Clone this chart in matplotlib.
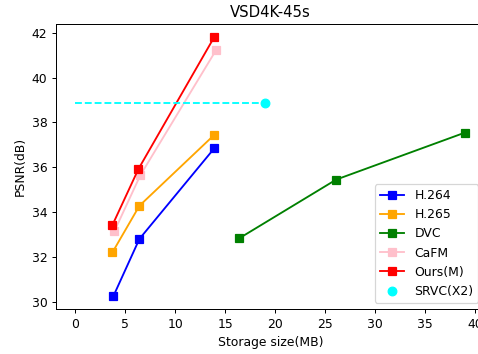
import matplotlib
matplotlib.use("Agg")
import matplotlib.pyplot as plt

# storage size (MB) and PSNR (dB) per method
h264_size = [3.8, 6.4, 13.9]
h264_psnr = [30.25, 32.8, 36.85]
h265_size = [3.7, 6.4, 13.9]
h265_psnr = [32.2, 34.28, 37.45]
dvc_size = [16.4, 26.1, 39.0]
dvc_psnr = [32.83, 35.45, 37.55]
cafm_size = [3.9, 6.5, 14.1]
cafm_psnr = [33.15, 35.65, 41.25]
ours_size = [3.7, 6.3, 13.9]
ours_psnr = [33.42, 35.92, 41.82]
srvc_size = 19.0
srvc_psnr = 38.88

# reference looks like a ~0.89x scaled render, so use dpi 89
DPI = 89
fig = plt.figure(figsize=(478 / DPI, 354 / DPI), dpi=DPI)
# axes runs slightly past the right edge, like the reference crop
ax = fig.add_axes([56 / 478, 1 - 309 / 354, 428.5 / 478, 285 / 354])

ax.plot(h264_size, h264_psnr, 's-', color='blue', markersize=7, label='H.264')
ax.plot(h265_size, h265_psnr, 's-', color='orange', markersize=7, label='H.265')
ax.plot(dvc_size, dvc_psnr, 's-', color='green', markersize=7, label='DVC')
ax.plot(cafm_size, cafm_psnr, 's-', color='pink', markersize=7, label='CaFM')
ax.plot(ours_size, ours_psnr, 's-', color='red', markersize=7, label='Ours(M)')
ax.plot([0, srvc_size], [srvc_psnr, srvc_psnr], '--', color='cyan')
ax.plot([srvc_size], [srvc_psnr], 'o', color='cyan', markersize=7,
        linestyle='none', label='SRVC(X2)')

ax.set_title('VSD4K-45s')
ax.set_xlabel('Storage size(MB)')
ax.set_ylabel('PSNR(dB)')
ax.legend(loc='lower right')

fig.savefig('out.png', dpi=DPI)
